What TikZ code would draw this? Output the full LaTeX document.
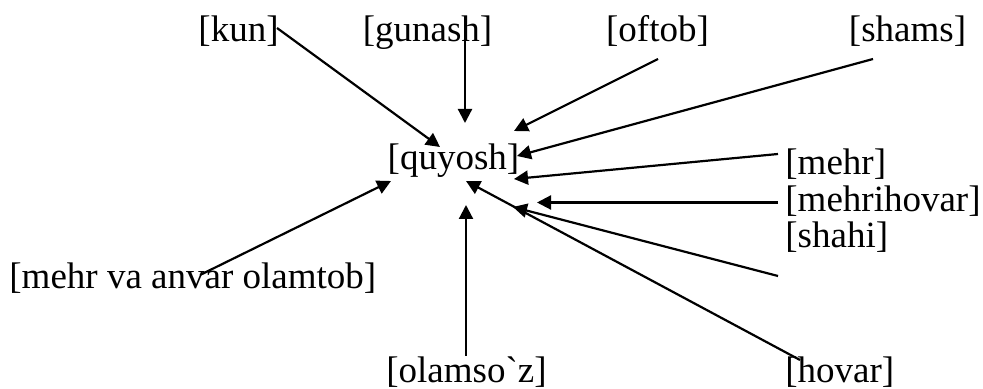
\documentclass[tikz,border=0pt]{standalone}
\usepackage{fontspec}
\setmainfont{Liberation Serif}
\usetikzlibrary{arrows.meta,calc}

\tikzstyle{word} = [inner sep=0pt, font=\fontsize{18.5}{22}\selectfont, text=black]
\tikzstyle{arrow} = [line width=1.1pt,-{Triangle[length=7pt,width=7pt]}]

\begin{document}
\begin{tikzpicture}[x=0.5pt,y=-0.5pt]
    \useasboundingbox (0,0) rectangle (983,389);

    \node (quyosh)[word, anchor=base] at (453.5,170) {[quyosh]};

    \node (kun)[word, anchor=base] at (238.5,42) {[kun]};
    \node (gunash)[word, anchor=base] at (427.5,42) {[gunash]};
    \node (oftob)[word, anchor=base] at (657.5,42) {[oftob]};
    \node (shams)[word, anchor=base] at (907.5,42) {[shams]};

    \node (mehr)[word, anchor=base west] at (785,175) {[mehr]};
    \node (mehrihovar)[word, anchor=base west] at (785,212) {[mehrihovar]};
    \node (shahi)[word, anchor=base west] at (785,248) {[shahi]};
    \node (hovar)[word, anchor=base west] at (785,382) {[hovar]};

    \node (olamsoz)[word, anchor=base] at (466.5,382) {[olamso\textasciigrave z]};
    \node (mehr_va_anvar)[word, anchor=base west] at (9,288) {[mehr va anvar olamtob]};

    % arrow tips round [quyosh]
    \coordinate (t_kun) at (440,147);
    \coordinate (t_gunash) at (465,123);
    \coordinate (t_oftob) at (514,131);
    \coordinate (t_shams) at (517,156);
    \coordinate (t_mehr) at (514,179);
    \coordinate (t_mehrihovar) at (537,202.5);
    \coordinate (t_shahi) at (513,207);
    \coordinate (t_hovar) at (466,181);
    \coordinate (t_olamsoz) at (466,205);
    \coordinate (t_mehr_va_anvar) at (391,181);

    \draw [arrow] ($(kun.base)+(38.5,-14)$) -- (t_kun);
    \draw [arrow] (gunash.north -| t_gunash) -- (t_gunash);
    \draw [arrow] ($(oftob.base)+(0.5,17)$) -- (t_oftob);
    \draw [arrow] ($(shams.base)+(-34.5,17)$) -- (t_shams);

    \draw [arrow] ($(mehr.base west)+(-7,-21)$) -- (t_mehr);
    \draw [arrow] ($(mehrihovar.base west)+(-7,-9.5)$) -- (t_mehrihovar);
    \draw [arrow] ($(shahi.base west)+(-7,28)$) -- (t_shahi);
    \draw [arrow] ($(hovar.base west)+(15,-22)$) -- (t_hovar);

    \draw [arrow] (olamsoz.north -| t_olamsoz) -- (t_olamsoz);
    \draw [arrow] ($(mehr_va_anvar.base west)+(191,-13)$) -- (t_mehr_va_anvar);
\end{tikzpicture}
\end{document}
